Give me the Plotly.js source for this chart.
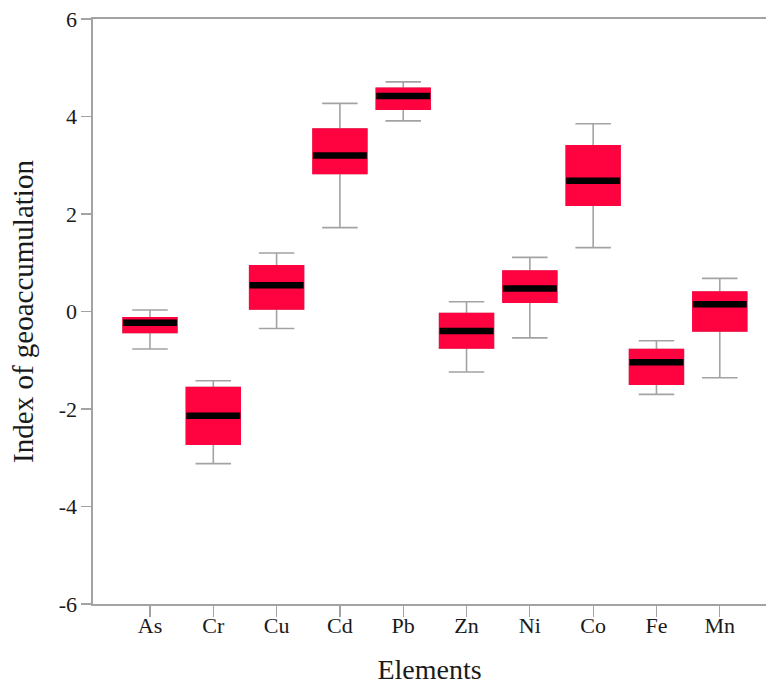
<!DOCTYPE html>
<html>
<head>
<meta charset="utf-8">
<script src="https://cdn.plot.ly/plotly-3.0.1.min.js"></script>
<style>
html,body{margin:0;padding:0;background:#fff;}
#chart{width:766px;height:686px;}
</style>
</head>
<body>
<div id="chart"></div>
<script>
// Data
const elements = ["As","Cr","Cu","Cd","Pb","Zn","Ni","Co","Fe","Mn"];
const lowerWhisker = [-0.77,-3.12,-0.35,1.72,3.91,-1.24,-0.54,1.31,-1.70,-1.36];
const q1Values     = [-0.43,-2.72, 0.05,2.83,4.15,-0.75, 0.19,2.18,-1.49,-0.40];
const medianValues = [-0.23,-2.14, 0.54,3.20,4.42,-0.40, 0.47,2.68,-1.04, 0.15];
const q3Values     = [-0.13,-1.56, 0.94,3.74,4.58,-0.04, 0.83,3.40,-0.78, 0.40];
const upperWhisker = [ 0.03,-1.42, 1.20,4.27,4.71, 0.20, 1.11,3.85,-0.60, 0.68];
const yTicks = [-6,-4,-2,0,2,4,6];

const boxRed = "#ff0341";
const whiskerGray = "#a3a3a3";
const fontFam = "Liberation Serif, Times New Roman, serif";

const whiskers = {
  type: "box",
  x: elements,
  q1: q1Values, median: medianValues, q3: q3Values,
  lowerfence: lowerWhisker, upperfence: upperWhisker,
  width: 0.85,
  whiskerwidth: 0.66,
  fillcolor: boxRed,
  line: {color: whiskerGray, width: 1.6},
  hoverinfo: "skip",
  showlegend: false
};
const boxes = {
  type: "box",
  x: elements,
  q1: q1Values, median: q1Values, q3: q3Values,
  lowerfence: q1Values, upperfence: q3Values,
  width: 0.85,
  whiskerwidth: 0,
  fillcolor: boxRed,
  line: {color: boxRed, width: 1.6},
  hoverinfo: "skip",
  showlegend: false
};
const medians = {
  type: "scatter",
  mode: "markers",
  x: elements,
  y: medianValues,
  marker: {symbol: "line-ew", size: 38.5, color: "#000", line: {color: "#000", width: 6.5}},
  hoverinfo: "skip",
  showlegend: false
};

const layout = {
  width: 766, height: 686,
  margin: {l: 93, r: 0, t: 19, b: 82},
  paper_bgcolor: "#fff", plot_bgcolor: "#fff",
  boxmode: "overlay",
  font: {family: fontFam, color: "#1a1a1a"},
  xaxis: {
    type: "category",
    range: [-0.9, 9.73],
    showline: true, linecolor: whiskerGray, linewidth: 1.6, mirror: true,
    ticks: "outside", ticklen: 11, tickcolor: whiskerGray, tickwidth: 1.2,
    ticklabelstandoff: -10,
    showgrid: false, zeroline: false,
    tickfont: {family: fontFam, size: 22, color: "#1a1a1a"},
    title: {text: "Elements", font: {family: fontFam, size: 28, color: "#1a1a1a"}, standoff: 22}
  },
  yaxis: {
    range: [-6, 6],
    tickvals: yTicks,
    ticktext: yTicks.map(String),
    showline: true, linecolor: whiskerGray, linewidth: 1.6,
    ticks: "outside", ticklen: 10, tickcolor: whiskerGray, tickwidth: 1.2,
    showgrid: false, zeroline: false,
    tickfont: {family: fontFam, size: 22, color: "#1a1a1a"},
    title: {text: "Index of geoaccumulation", font: {family: fontFam, size: 29, color: "#1a1a1a"}, standoff: 16}
  }
};

Plotly.newPlot("chart", [whiskers, boxes, medians], layout, {staticPlot: true, displayModeBar: false});
</script>
</body>
</html>
